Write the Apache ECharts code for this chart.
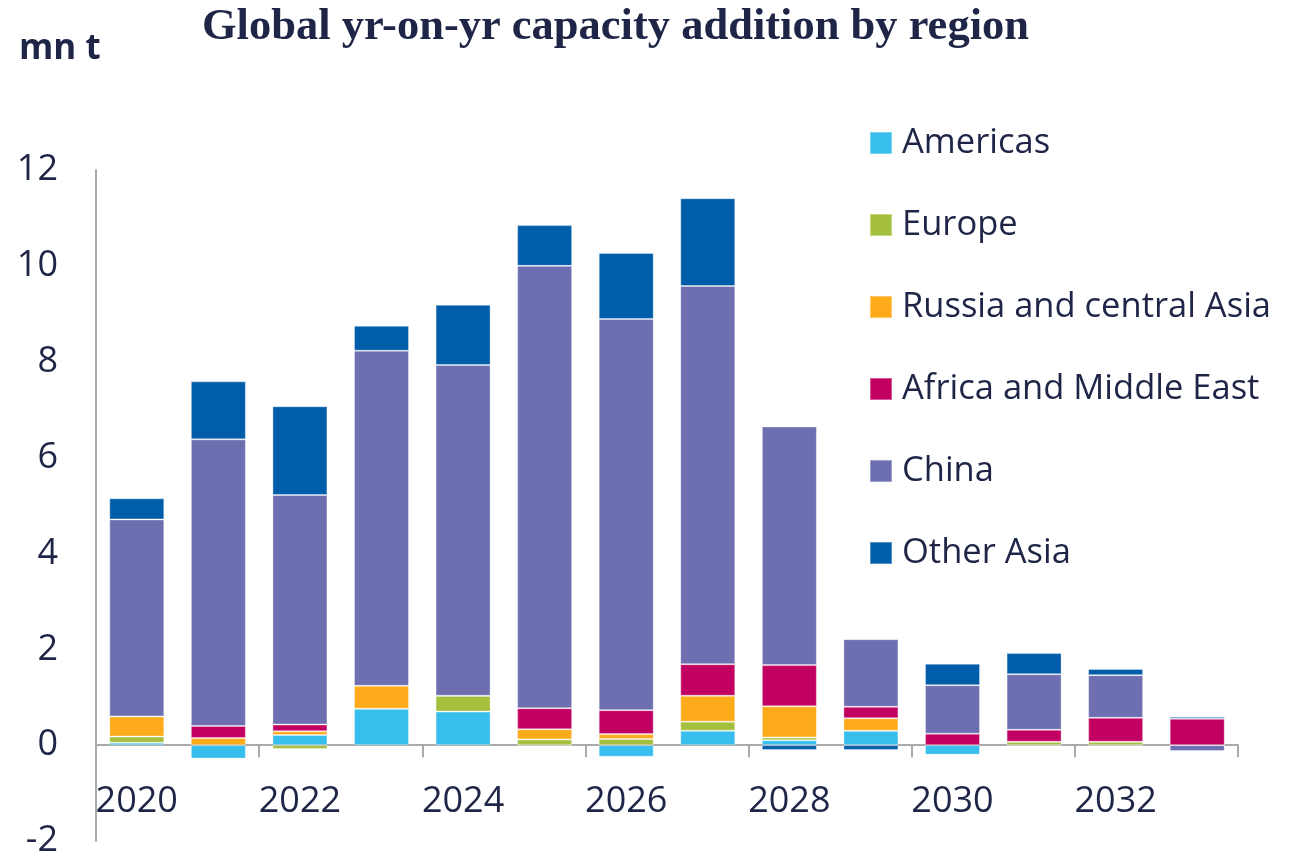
<!DOCTYPE html>
<html>
<head>
<meta charset="utf-8">
<script src="https://cdn.jsdelivr.net/npm/echarts@6/dist/echarts.min.js"></script>
<style>
html,body{margin:0;padding:0;background:#fff;}
#chart{width:1294px;height:857px;}
</style>
</head>
<body>
<div id="chart"></div>
<script>
const years = ['2020','2021','2022','2023','2024','2025','2026','2027','2028','2029','2030','2031','2032','2033'];
const seriesNames = ['Americas','Europe','Russia and central Asia','Africa and Middle East','China','Other Asia'];
const americas = [0.05, -0.28, 0.21, 0.76, 0.70, 0, -0.24, 0.30, 0.10, 0.30, -0.20, 0, 0, 0];
const europe   = [0.13, 0, -0.08, 0, 0.33, 0.12, 0.13, 0.19, 0.06, 0, 0, 0.07, 0.07, 0];
const russia   = [0.42, 0.15, 0.08, 0.48, 0, 0.21, 0.10, 0.54, 0.65, 0.26, 0, 0, 0, 0];
const africa   = [0, 0.25, 0.14, 0, 0, 0.44, 0.50, 0.66, 0.86, 0.24, 0.24, 0.25, 0.50, 0.55];
const china    = [4.11, 5.98, 4.79, 6.99, 6.90, 9.23, 8.16, 7.89, 4.98, 1.41, 1.01, 1.16, 0.89, -0.12];
const otherAsia= [0.44, 1.21, 1.85, 0.52, 1.26, 0.85, 1.38, 1.83, -0.10, -0.10, 0.45, 0.44, 0.13, 0.04];
const colors = ['#37BEED','#A5C03E','#FDAA1B','#C20062','#6D6FB0','#005DAA'];
const yMin = -2, yMax = 12, yStep = 2;

const navy = '#1e2546';
const font = 'Open Sans';
const allData = [americas, europe, russia, africa, china, otherAsia];

const chart = echarts.init(document.getElementById('chart'), null, {renderer:'canvas'});
chart.setOption({
  animation:false,
  backgroundColor:'#fff',
  title:[{
    text:'Global yr-on-yr capacity addition by region',
    left:197, top:0,
    textStyle:{fontFamily:'Liberation Serif', fontWeight:'bold', fontSize:44.5, color:navy}
  },{
    text:'mn t',
    left:14, top:27,
    textStyle:{fontFamily:font, fontWeight:'bold', fontSize:35, color:navy}
  }],
  legend:{
    orient:'vertical',
    left:864, top:118,
    itemWidth:22, itemHeight:22,
    itemGap:42,
    icon:'rect',
    data:seriesNames,
    textStyle:{fontFamily:font, fontSize:34.5, color:navy, lineHeight:40, padding:[0,0,0,5]}
  },
  grid:{left:96, right:56, top:170, bottom:16, containLabel:false, outerBoundsMode:'none'},
  xAxis:{
    type:'category',
    data:years,
    axisLine:{onZero:true, lineStyle:{color:'#aaaaaa', width:2}},
    axisTick:{show:true, interval:1, length:12, lineStyle:{color:'#aaaaaa', width:2}},
    axisLabel:{interval:1, margin:-57, fontFamily:font, fontSize:36, color:navy}
  },
  yAxis:{
    type:'value',
    min:yMin, max:yMax, interval:yStep,
    splitLine:{show:false},
    axisLine:{show:true, lineStyle:{color:'#aaaaaa', width:2}},
    axisTick:{show:false},
    axisLabel:{margin:38, fontFamily:font, fontSize:36, color:navy}
  },
  series: seriesNames.map((n,i)=>({
    name:n, type:'bar', stack:'total', barWidth:55,
    data:allData[i],
    itemStyle:{color:colors[i], borderColor:'rgba(255,255,255,0.35)', borderWidth:1}
  }))
});
</script>
</body>
</html>
